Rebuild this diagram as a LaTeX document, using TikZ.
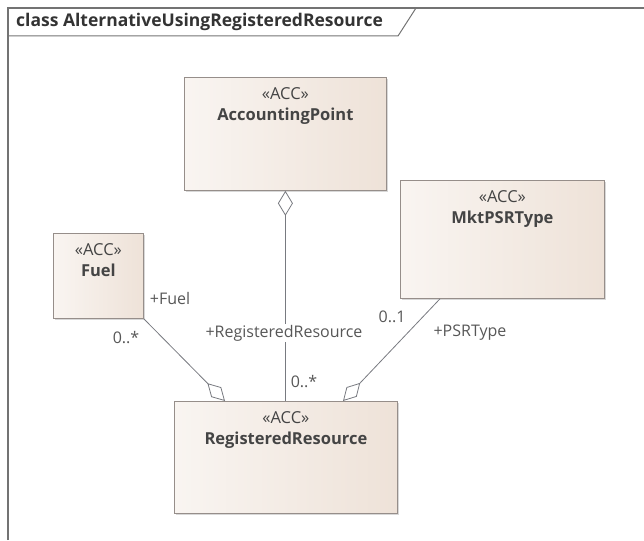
\documentclass[tikz,border=0pt]{standalone}
\usepackage{fontspec}
\setmainfont{Open Sans}
\usetikzlibrary{positioning,arrows.meta,shadows,calc}
\definecolor{clsfill}{RGB}{238,226,216}
\definecolor{clsline}{RGB}{150,142,138}
\definecolor{linkgray}{RGB}{120,122,128}
\definecolor{txtgray}{RGB}{68,68,68}
\definecolor{framegray}{RGB}{115,115,115}
\newcommand{\accclass}[1]{«ACC»\\\textbf{#1}}

\begin{document}
\begin{tikzpicture}[x=1pt, y=-1pt,
  cls/.style={rectangle, draw=clsline, line width=0.8pt, left color=white!65!clsfill, right color=clsfill,
    drop shadow={shadow xshift=2pt, shadow yshift=-2pt, fill=black!30}, anchor=north west, inner sep=0pt},
  clstext/.style={anchor=north, align=center, inner sep=0pt, text=txtgray, font=\fontsize{16.5}{21}\selectfont},
  role/.style={text=txtgray!90, font=\fontsize{16}{18}\selectfont, inner sep=1pt},
  aggend/.style={draw=linkgray, line width=0.8pt, -{Diamond[length=25pt, width=14pt, fill=white]}},
  aggstart/.style={draw=linkgray, line width=0.8pt, {Diamond[length=25pt, width=15pt, fill=white]}-}
]
\useasboundingbox (0,0) rectangle (644,540);
\clip (0,0) rectangle (644,540);

% frame and title tab
\draw[framegray, line width=1.6pt] (8,540) -- (8,8) -- (644,8);
\draw[framegray, line width=1pt] (8,36) -- (398,36) -- (416,8);
\node[anchor=west, inner sep=0pt, text=black!80, font=\fontsize{17.5}{20}\selectfont\bfseries] (title) at (16,22) {class AlternativeUsingRegisteredResource};

% classes
\node[cls, minimum width=202pt, minimum height=113pt] (ap) at (184,77) {};
\node[clstext, below=10pt of ap.north] (aptext) {\accclass{AccountingPoint}};

\node[cls, minimum width=90pt, minimum height=85pt] (fuel) at (53,233) {};
\node[clstext, below=10pt of fuel.north] (fueltext) {\accclass{Fuel}};

\node[cls, minimum width=204pt, minimum height=118pt] (psr) at (400,180) {};
\node[clstext, below=10pt of psr.north] (psrtext) {\accclass{MktPSRType}};

\node[cls, minimum width=223pt, minimum height=112pt] (rr) at (174,401) {};
\node[clstext, below=10pt of rr.north] (rrtext) {\accclass{RegisteredResource}};

% aggregations
\draw[aggend] (fuel.south east) -- ($(rr.north west)+(51,0)$);
\draw[aggend] ($(psr.south west)+(40,0)$) -- ($(rr.north west)+(169,0)$);
\draw[aggstart] (ap.south) -- (ap.south |- rr.north);

% role names and multiplicities
\node[role] (fuelrole) at (170,298) {+Fuel};
\node[role] (fuelmult) at (126,338) {0..*};
\node[role, fill=white] (rrrole) at (284,333) {+RegisteredResource};
\node[role] (rrmult) at (304,382) {0..*};
\node[role] (psrmult) at (392,317) {0..1};
\node[role] (psrrole) at (470,333) {+PSRType};
\end{tikzpicture}
\end{document}
